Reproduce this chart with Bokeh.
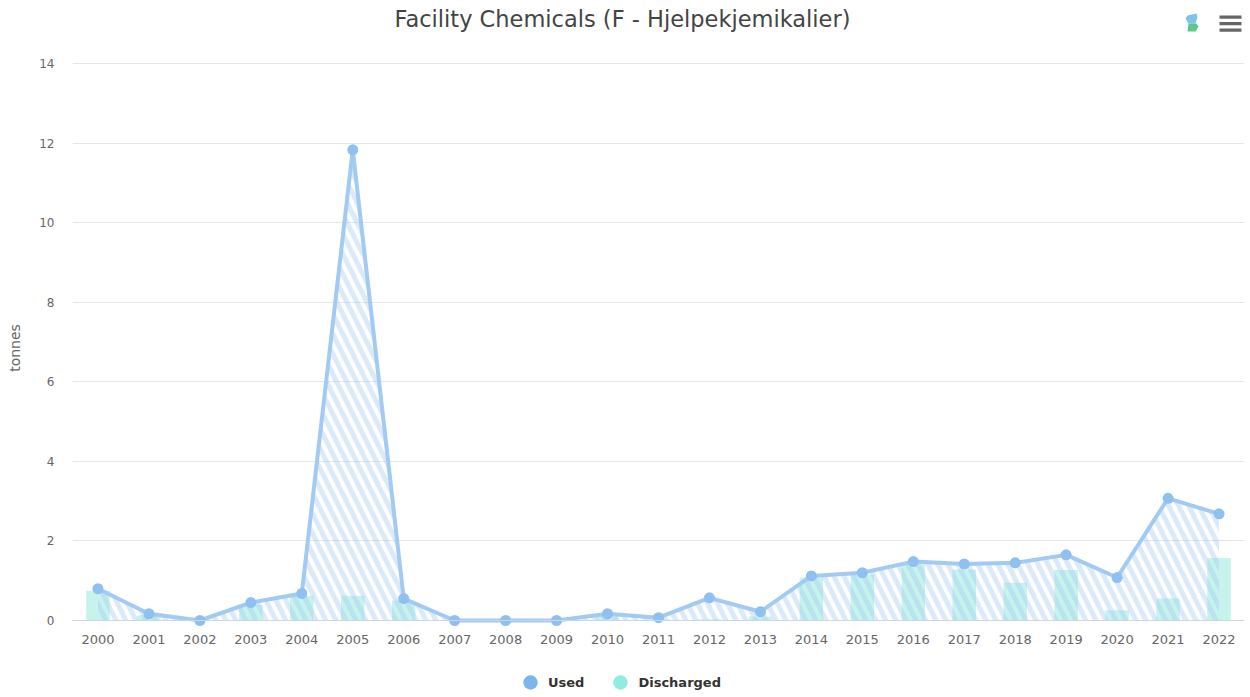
from bokeh.plotting import figure
from bokeh.models import (FactorRange, Range1d, Legend, LegendItem, Label, BoxAnnotation,
                          PolyAnnotation, FixedTicker)
from bokeh.embed import file_html
from bokeh.resources import INLINE

years = [str(y) for y in range(2000, 2023)]
used = [0.8, 0.17, 0.0, 0.45, 0.68, 11.83, 0.55, 0.0, 0.0, 0.0, 0.17, 0.07, 0.57, 0.22,
        1.12, 1.2, 1.48, 1.42, 1.45, 1.65, 1.08, 3.07, 2.68]
discharged = [0.75, 0.13, 0.0, 0.4, 0.62, 0.62, 0.5, 0.0, 0.0, 0.0, 0.12, 0.03, 0.03, 0.1,
              1.08, 1.15, 1.42, 1.28, 0.95, 1.27, 0.26, 0.55, 1.57]
y_ticks = [0, 2, 4, 6, 8, 10, 12, 14]
title = "Facility Chemicals (F - Hjelpekjemikalier)"

FONT = "DejaVu Sans"
FRAME_LEFT = 72
FRAME_BOTTOM = 695


def sx(v):
    return v - FRAME_LEFT


def sy(v):
    return FRAME_BOTTOM - v


p = figure(x_range=FactorRange(factors=years, range_padding=0), y_range=Range1d(-1.885, 15.583),
           frame_width=1172, frame_height=FRAME_BOTTOM, min_border_left=FRAME_LEFT,
           min_border_right=6, min_border_top=0, min_border_bottom=0, output_backend="svg",
           toolbar_location=None, outline_line_color=None, background_fill_color="white")

p.xgrid.visible = False
p.ygrid.grid_line_color = "#e6e6e6"
p.ygrid.grid_line_width = 1
p.yaxis.ticker = FixedTicker(ticks=y_ticks)
p.yaxis.axis_line_color = None
p.yaxis.major_tick_line_color = None
p.yaxis.minor_tick_line_color = None
p.yaxis.major_label_text_color = "#666666"
p.yaxis.major_label_text_font = FONT
p.yaxis.major_label_text_font_size = "12px"
p.yaxis.major_label_standoff = 12
p.yaxis.axis_label = "tonnes"
p.yaxis.axis_label_text_color = "#666666"
p.yaxis.axis_label_text_font = FONT
p.yaxis.axis_label_text_font_size = "14px"
p.yaxis.axis_label_text_font_style = "normal"
p.yaxis.axis_label_standoff = 13
p.xaxis.fixed_location = 0
p.xaxis.axis_line_color = "#ccd6eb"
p.xaxis.major_tick_line_color = None
p.xaxis.minor_tick_line_color = None
p.xaxis.major_label_text_color = "#666666"
p.xaxis.major_label_text_font = FONT
p.xaxis.major_label_text_font_size = "13px"
p.xaxis.major_label_standoff = 8

bars = p.vbar(x=years, top=discharged, width=0.46, fill_color="#c6f3ec", line_color=None)
p.varea(x=years, y1=[0] * len(years), y2=used, fill_alpha=0, hatch_pattern="left_diagonal_line",
        hatch_color="#a5cbf3", hatch_alpha=0.4, hatch_scale=20, hatch_weight=5)
p.line(x=years, y=used, line_color="#a3caf2", line_width=4)
p.scatter(x=years, y=used, size=11, fill_color="#8fc0f0", line_color=None)

leg_used = p.scatter(x=years[:1], y=[-5], size=16, fill_color="#7cb5ec", line_color=None)
leg_dis = p.scatter(x=years[:1], y=[-5], size=16, fill_color="#90ebe0", line_color=None)
legend = Legend(items=[LegendItem(label="Used", renderers=[leg_used]),
                       LegendItem(label="Discharged", renderers=[leg_dis])],
                orientation="horizontal", location=(440, -5), background_fill_alpha=0,
                border_line_color=None, label_text_color="#333333", label_text_font=FONT,
                label_text_font_size="13px", label_text_font_style="bold",
                glyph_width=36, glyph_height=36, spacing=18, label_standoff=0, margin=0, padding=0)
p.add_layout(legend)

p.add_layout(Label(x=sx(622), y=sy(18), x_units="screen", y_units="screen", text=title,
                   text_align="center", text_baseline="middle", text_color="#444444",
                   text_font=FONT, text_font_size="22.5px"))

for t in (15, 21.5, 28):
    p.add_layout(BoxAnnotation(left=sx(1219), right=sx(1241), top=sy(t), bottom=sy(t + 3.3),
                               left_units="screen", right_units="screen", top_units="screen",
                               bottom_units="screen", fill_color="#666666", fill_alpha=1,
                               line_color=None))
p.add_layout(PolyAnnotation(xs=[sx(v) for v in (1187, 1196, 1197, 1195, 1188, 1185)],
                            ys=[sy(v) for v in (15, 13, 17, 23, 23, 18)],
                            xs_units="screen", ys_units="screen", fill_color="#7cc4ef",
                            fill_alpha=1, line_color=None))
p.add_layout(PolyAnnotation(xs=[sx(v) for v in (1188, 1196, 1198, 1195, 1187)],
                            ys=[sy(v) for v in (23, 23, 26, 31, 31)],
                            xs_units="screen", ys_units="screen", fill_color="#5cc98a",
                            fill_alpha=1, line_color=None))

open("out.html", "w").write(file_html(p, INLINE))
